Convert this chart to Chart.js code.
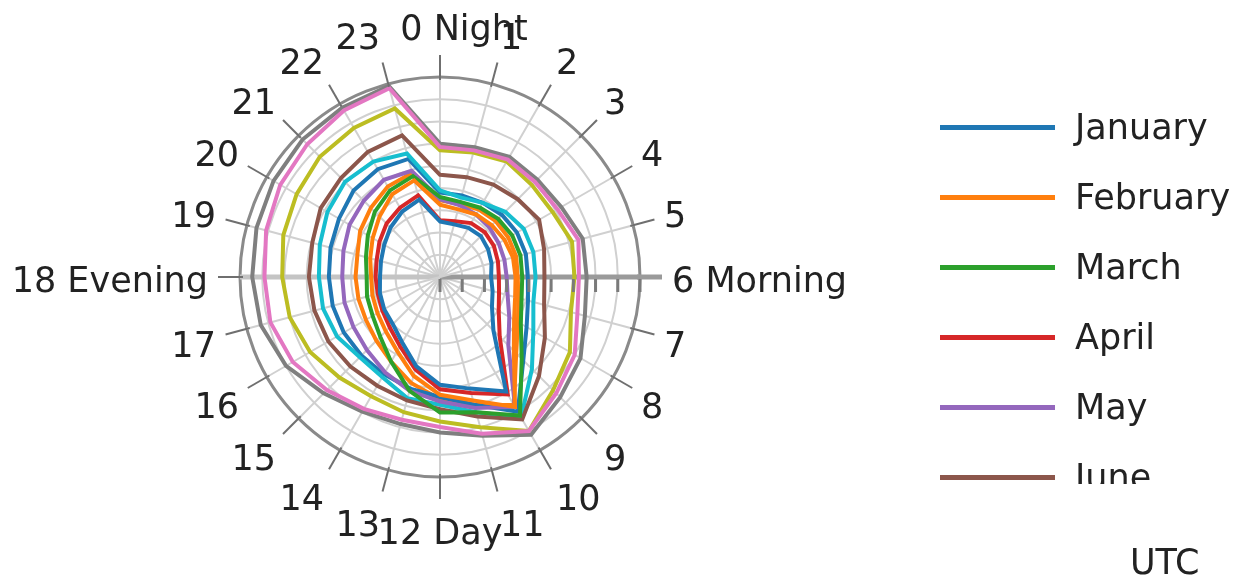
<!DOCTYPE html>
<html>
<head>
<meta charset="utf-8">
<title>Hourly profile by month (UTC)</title>
<script src="https://cdn.jsdelivr.net/npm/chart.js@4.4.1/dist/chart.umd.min.js"></script>
<style>
  html, body { margin: 0; padding: 0; background: #fff; }
  body { width: 1243px; height: 583px; position: relative; overflow: hidden; font-family: "DejaVu Sans", Verdana, sans-serif; }
  #chart { position: absolute; left: 0; top: 0; }
  #legend { position: absolute; left: 940px; top: 92px; width: 303px; height: 392px; overflow: hidden; }
  .legend-item { height: 70px; display: flex; align-items: center; font-size: 35px; color: #222; white-space: nowrap; }
  .legend-swatch { width: 115px; height: 5px; margin-right: 20px; flex: none; }
  #utc { position: absolute; left: 1130px; top: 542px; font-size: 35px; color: #222; }
</style>
</head>
<body>
<canvas id="chart" width="1243" height="583"></canvas>
<div id="legend"></div>
<div id="utc">UTC</div>
<script>
// hour labels round the clock, 0 at the top
const hourLabels = [
  '0 Night', '1', '2', '3', '4', '5', '6 Morning', '7', '8', '9', '10', '11',
  '12 Day', '13', '14', '15', '16', '17', '18 Evening', '19', '20', '21', '22', '23'
];

const monthNames = ['January', 'February', 'March', 'April', 'May', 'June',
  'July', 'August', 'September', 'October', 'November', 'December'];

// d3 category10, cycling
const monthColors = ['#1f77b4', '#ff7f0e', '#2ca02c', '#d62728', '#9467bd', '#8c564b',
  '#e377c2', '#7f7f7f', '#bcbd22', '#17becf', '#1f77b4', '#ff7f0e'];

// values per hour 0..23
const january   = [25, 24.5, 25.5, 26, 25, 24, 23, 24.5, 27, 34, 59.5, 52, 48.5, 41.5, 34, 30, 29, 28, 27, 27.5, 29, 31.5, 34, 36];
const february  = [32.5, 31.5, 32.5, 33, 33.5, 34, 34, 35, 38.5, 47, 67.5, 57.5, 53, 46, 38.5, 34.5, 32.5, 31.5, 31, 32.5, 35, 38.5, 43, 45];
const march     = [36, 35, 36, 37, 37.5, 37.5, 37, 38, 42, 52, 72, 63, 61, 53, 44, 38, 35, 34, 33, 34.5, 37.5, 41.5, 45, 47];
const april     = [25.5, 26, 28, 28.5, 28, 27, 26.5, 27.5, 30.5, 38, 61, 54, 50.5, 43, 36, 32, 30, 29, 29, 29.5, 31.5, 34, 36, 38];
const may       = [35, 33.5, 32.5, 31.5, 30.5, 30, 30, 31.5, 36, 43.5, 67.5, 61, 56, 53, 49.5, 46.5, 45, 44.5, 44, 45, 47, 48.5, 50.5, 49.5];
const june      = [46, 46.5, 48, 49.5, 51.5, 48.5, 47, 48.5, 54.5, 63, 74, 65, 59.5, 57.5, 56.5, 57, 58, 58.5, 59, 59.5, 62, 63, 65, 66];
const july      = [58.5, 59, 61, 60.5, 61, 64.5, 62.5, 64, 70, 74, 80, 73, 67.5, 66.5, 68.5, 72, 76.5, 79, 79, 81, 83, 84.5, 86.5, 88];
const august    = [60, 60.5, 62.5, 62, 63, 66.5, 66, 67.5, 73, 76.5, 82, 74, 70, 68.5, 70, 74, 80, 83.5, 84.5, 85.5, 86.5, 87.5, 88, 89];
const september = [57, 58, 60, 58.5, 58.5, 61.5, 60.5, 61, 67.5, 72, 80, 70, 65, 63, 62, 64, 67.5, 70, 71, 73, 74.5, 76.5, 77.5, 78.5];
const october   = [39, 37, 38.5, 41.5, 43.5, 43.5, 43, 43.5, 48.5, 58.5, 73, 63, 57.5, 56.5, 52, 51, 53.5, 54.5, 54.5, 56, 58.5, 60.5, 60, 57.5];
const november  = [38, 38, 38.5, 39.5, 40, 40, 39.5, 41, 45, 53, 70, 59.5, 54, 52, 50.5, 50, 50, 50, 50, 51, 52.5, 55, 56, 55];
const december  = [34.5, 34, 35, 35.5, 35.5, 35.5, 35, 36.5, 40.5, 48.5, 66.5, 59.5, 55, 49.5, 44, 40.5, 38.5, 38, 38, 38.5, 41.5, 44, 47, 48.5];

const monthValues = [january, february, march, april, may, june,
  july, august, september, october, november, december];

// radial axis range and ring step
const radialMax = 90;
const radialStep = 10;

Chart.defaults.font.family = '"DejaVu Sans", Verdana, sans-serif';

/**
 * Draws the clock decorations: tick marks outside the ring,
 * the small marks along the 6 o'clock spoke and the hour labels.
 */
const clockDecor = {
  id: 'clockDecor',
  afterDraw(chart) {
    const scale = chart.scales.r;
    const ctx = chart.ctx;
    const outer = scale.drawingArea;

    ctx.save();

    // tick marks outside the outer ring (the morning one is the thick axis)
    hourLabels.forEach((label, i) => {
      const a = scale.getPointPosition(i, outer - 3);
      const b = scale.getPointPosition(i, outer + 22);
      ctx.strokeStyle = i === 6 ? '#9a9a9a' : '#6f6f6f';
      ctx.lineWidth = i === 6 ? 5 : 2;
      ctx.beginPath();
      ctx.moveTo(a.x, a.y);
      ctx.lineTo(b.x, b.y);
      ctx.stroke();
    });

    // small marks hanging under the morning spoke
    ctx.strokeStyle = '#7a7a7a';
    ctx.lineWidth = 3;
    scale.ticks.forEach(tick => {
      const p = scale.getPointPosition(6, scale.getDistanceFromCenterForValue(tick.value));
      ctx.beginPath();
      ctx.moveTo(p.x, p.y + 2);
      ctx.lineTo(p.x, p.y + 15);
      ctx.stroke();
    });

    // hour labels
    ctx.font = '35px "DejaVu Sans", Verdana, sans-serif';
    ctx.fillStyle = '#222';
    ctx.textBaseline = 'middle';
    hourLabels.forEach((label, i) => {
      const px = scale.getPointPosition(i, outer + 32);
      const py = scale.getPointPosition(i, outer + 52);
      let x = px.x;
      if (i === 0) {
        ctx.textAlign = 'center';
        x += 24;
      } else if (i === 12) {
        ctx.textAlign = 'center';
      } else {
        ctx.textAlign = i < 12 ? 'left' : 'right';
      }
      ctx.fillText(label, x, py.y + 6);
    });

    ctx.restore();
  }
};

const datasets = monthNames.map((name, i) => ({
  label: name,
  data: monthValues[i],
  borderColor: monthColors[i],
  backgroundColor: 'transparent',
  borderWidth: 4,
  fill: false,
  pointRadius: 0,
  tension: 0
}));

const chart = new Chart(document.getElementById('chart'), {
  type: 'radar',
  data: {
    labels: hourLabels,
    datasets: datasets
  },
  options: {
    responsive: false,
    animation: false,
    devicePixelRatio: 1,
    layout: {
      padding: { left: 240, top: 77, right: 603, bottom: 106 }
    },
    plugins: {
      legend: { display: false },
      tooltip: { enabled: false }
    },
    scales: {
      r: {
        min: 0,
        max: radialMax,
        ticks: { stepSize: radialStep, display: false },
        pointLabels: { display: false },
        grid: {
          circular: true,
          color: ctx => ctx.index === 9 ? '#8a8a8a' : '#d0d0d0',
          lineWidth: ctx => ctx.index === 9 ? 3 : 2
        },
        angleLines: {
          color: ctx => ctx.index === 6 ? '#9a9a9a' : (ctx.index === 18 ? '#c4c4c4' : '#d0d0d0'),
          lineWidth: ctx => (ctx.index === 6 || ctx.index === 18) ? 5 : 2
        }
      }
    }
  },
  plugins: [clockDecor]
});

// html legend, one row per month; the box clips after June like the original
const legendBox = document.getElementById('legend');
chart.data.datasets.forEach(ds => {
  const item = document.createElement('div');
  item.className = 'legend-item';

  const swatch = document.createElement('span');
  swatch.className = 'legend-swatch';
  swatch.style.background = ds.borderColor;

  const text = document.createElement('span');
  text.textContent = ds.label;

  item.appendChild(swatch);
  item.appendChild(text);
  legendBox.appendChild(item);
});
</script>
</body>
</html>
